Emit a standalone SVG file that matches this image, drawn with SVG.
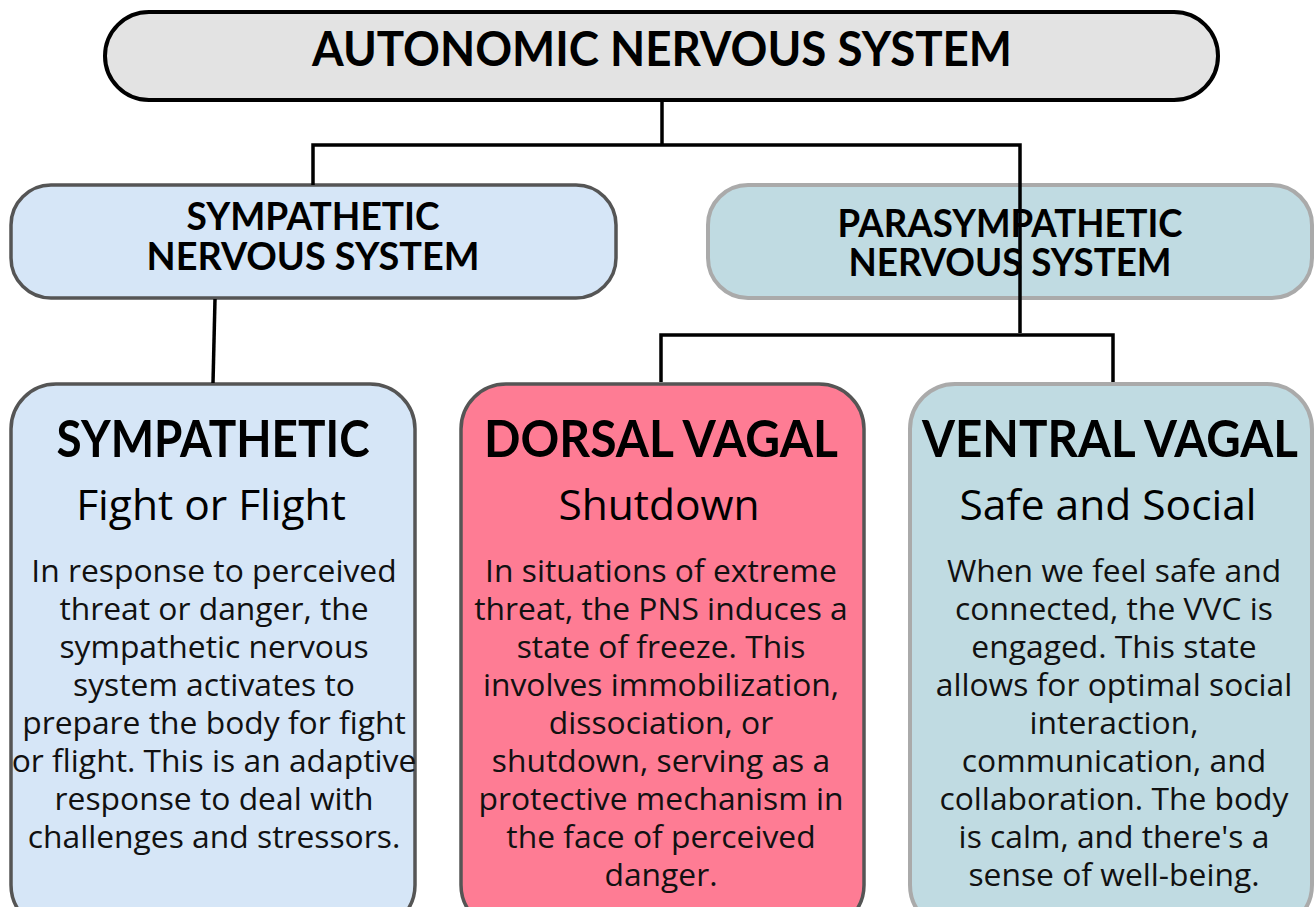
<svg xmlns="http://www.w3.org/2000/svg" width="1315" height="907" viewBox="0 0 1315 907">
<style>
.h{font-family:"Lato","DejaVu Sans",sans-serif;font-weight:700;fill:#000;text-anchor:middle}
.s{font-family:"Open Sans","Noto Sans",sans-serif;font-weight:400;fill:#000;text-anchor:middle;font-size:42.5px}
.b{font-family:"Open Sans","Noto Sans",sans-serif;font-weight:400;fill:#111;text-anchor:middle;font-size:31.8px}
.con{fill:none;stroke:#000;stroke-width:3.5;stroke-linejoin:miter}
</style>
<rect width="1315" height="907" fill="#fff"/>
<g id="ans">
<rect x="105" y="12" width="1113" height="88" rx="44" fill="#e3e3e3" stroke="#000" stroke-width="4"/>
<text class="h" x="662" y="66" font-size="47" textLength="700" lengthAdjust="spacingAndGlyphs">AUTONOMIC NERVOUS SYSTEM</text>
</g>
<g id="sns">
<rect x="11" y="185" width="605" height="113" rx="40" fill="#d6e6f7" stroke="#555" stroke-width="3.5"/>
<text class="h" x="313" y="230" font-size="39" textLength="253" lengthAdjust="spacingAndGlyphs">SYMPATHETIC</text>
<text class="h" x="313" y="270" font-size="39" textLength="333" lengthAdjust="spacingAndGlyphs">NERVOUS SYSTEM</text>
</g>
<g id="pns">
<rect x="708" y="185" width="604" height="113" rx="40" fill="#c0dbe2" stroke="#aaa" stroke-width="4"/>
<text class="h" x="1010" y="237" font-size="39" textLength="345" lengthAdjust="spacingAndGlyphs">PARASYMPATHETIC</text>
<text class="h" x="1010" y="276" font-size="39" textLength="323" lengthAdjust="spacingAndGlyphs">NERVOUS SYSTEM</text>
</g>
<g id="sympathetic">
<rect x="11" y="384" width="404" height="546" rx="45" fill="#d6e6f7" stroke="#555" stroke-width="3.5"/>
<text class="h" x="213" y="457" font-size="51" textLength="313" lengthAdjust="spacingAndGlyphs">SYMPATHETIC</text>
<text class="s" x="211" y="520">Fight or Flight</text>
<text class="b" x="214" y="582">In response to perceived</text>
<text class="b" x="214" y="620">threat or danger, the</text>
<text class="b" x="214" y="658">sympathetic nervous</text>
<text class="b" x="214" y="696">system activates to</text>
<text class="b" x="214" y="734">prepare the body for fight</text>
<text class="b" x="214" y="772">or flight. This is an adaptive</text>
<text class="b" x="214" y="810">response to deal with</text>
<text class="b" x="214" y="848">challenges and stressors.</text>
</g>
<g id="dorsal">
<rect x="461" y="384" width="403" height="546" rx="45" fill="#fe7c94" stroke="#555" stroke-width="3.5"/>
<text class="h" x="661" y="457" font-size="51" textLength="354" lengthAdjust="spacingAndGlyphs">DORSAL VAGAL</text>
<text class="s" x="659" y="520">Shutdown</text>
<text class="b" x="661" y="582">In situations of extreme</text>
<text class="b" x="661" y="620">threat, the PNS induces a</text>
<text class="b" x="661" y="658">state of freeze. This</text>
<text class="b" x="661" y="696">involves immobilization,</text>
<text class="b" x="661" y="734">dissociation, or</text>
<text class="b" x="661" y="772">shutdown, serving as a</text>
<text class="b" x="661" y="810">protective mechanism in</text>
<text class="b" x="661" y="848">the face of perceived</text>
<text class="b" x="661" y="886">danger.</text>
</g>
<g id="ventral">
<rect x="910" y="384" width="402" height="546" rx="45" fill="#c0dbe2" stroke="#aaa" stroke-width="4"/>
<text class="h" x="1110" y="457" font-size="51" textLength="376" lengthAdjust="spacingAndGlyphs">VENTRAL VAGAL</text>
<text class="s" x="1108" y="520">Safe and Social</text>
<text class="b" x="1114" y="582">When we feel safe and</text>
<text class="b" x="1114" y="620">connected, the VVC is</text>
<text class="b" x="1114" y="658">engaged. This state</text>
<text class="b" x="1114" y="696">allows for optimal social</text>
<text class="b" x="1114" y="734">interaction,</text>
<text class="b" x="1114" y="772">communication, and</text>
<text class="b" x="1114" y="810">collaboration. The body</text>
<text class="b" x="1114" y="848">is calm, and there's a</text>
<text class="b" x="1114" y="886">sense of well-being.</text>
</g>
<g id="connectors">
<path class="con" d="M662,100 V145"/>
<path class="con" d="M313,185 V145 H1020 V333"/>
<path class="con" d="M215,299 L213,383"/>
<path class="con" d="M661,382 V335 H1113 V382"/>
</g>
</svg>
